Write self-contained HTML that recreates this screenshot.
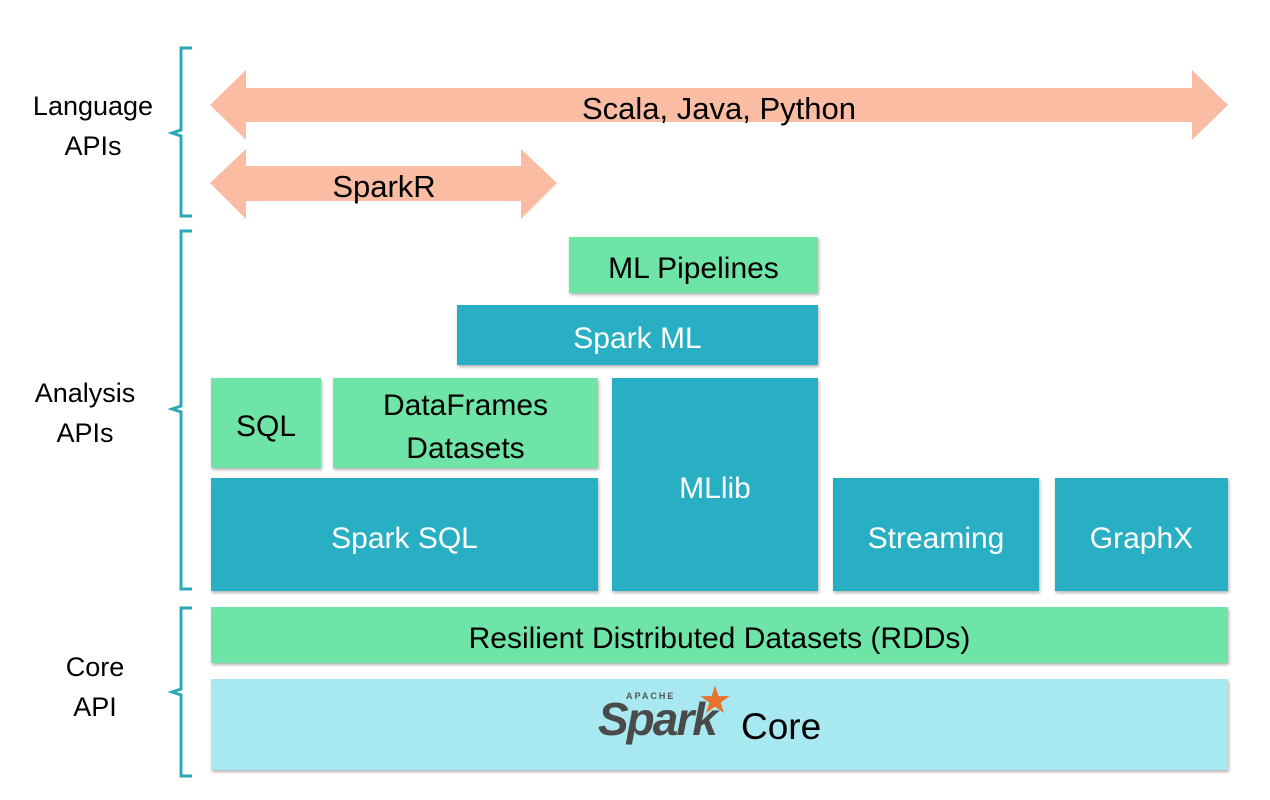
<!DOCTYPE html>
<html><head><meta charset="utf-8"><style>
body{margin:0;width:1270px;height:800px;background:#fff;position:relative;overflow:hidden;font-family:"Liberation Sans",sans-serif}
.b{position:absolute;display:flex;align-items:center;justify-content:center;text-align:center;font-size:30px;line-height:1.45;box-shadow:1px 2px 3px rgba(0,0,0,0.3);box-sizing:border-box;padding-top:8px}
.g{background:#6ee4a6;color:#000}
.t{background:#29afc3;color:#fff}
.l{position:absolute;font-size:27px;text-align:center;width:150px;line-height:1.48;color:#000}
</style></head><body>
<svg width="1270" height="800" style="position:absolute;left:0;top:0">
<g fill="#fbbca4">
<polygon points="210,105 246,70 246,88 1192,88 1192,70 1228,105 1192,140 1192,122 246,122 246,140"/>
<polygon points="210,183 246,149 246,166 521,166 521,149 557,183 521,219 521,201 246,201 246,219"/>
</g>
<g fill="none" stroke="#2aa9b9" stroke-width="3">
<path d="M192,48 H181 V130 L172,133 L181,136 V216 H192"/>
<path d="M192,231 H181 V406 L172,409 L181,412 V589 H192"/>
<path d="M192,608 H181 V689 L172,692 L181,695 V776 H192"/>
</g>
<text x="719" y="119" font-size="31" text-anchor="middle" font-family="Liberation Sans">Scala, Java, Python</text>
<text x="384" y="197" font-size="31" text-anchor="middle" font-family="Liberation Sans">SparkR</text>
</svg>
<div class="l" style="left:18px;top:87px">Language<br>APIs</div>
<div class="l" style="left:10px;top:374px">Analysis<br>APIs</div>
<div class="l" style="left:20px;top:648px">Core<br>API</div>
<div class="b g" style="left:569px;top:237px;width:249px;height:56px">ML Pipelines</div>
<div class="b t" style="left:457px;top:305px;width:361px;height:60px">Spark ML</div>
<div class="b g" style="left:211px;top:378px;width:110px;height:90px">SQL</div>
<div class="b g" style="left:333px;top:378px;width:265px;height:90px">DataFrames<br>Datasets</div>
<div class="b t" style="left:612px;top:378px;width:206px;height:213px">MLlib</div>
<div class="b t" style="left:211px;top:478px;width:387px;height:113px">Spark SQL</div>
<div class="b t" style="left:833px;top:478px;width:206px;height:113px">Streaming</div>
<div class="b t" style="left:1055px;top:478px;width:173px;height:113px">GraphX</div>
<div class="b g" style="left:211px;top:607px;width:1017px;height:56px">Resilient Distributed Datasets (RDDs)</div>
<div class="b" style="left:211px;top:679px;width:1017px;height:91px;background:#a8e8f0"></div>
<div style="position:absolute;left:598px;top:684px;width:140px;height:70px">
<div style="position:absolute;left:28px;top:7px;font-size:9px;letter-spacing:2px;color:#555;font-weight:bold">APACHE</div>
<div style="position:absolute;left:0;top:8px;font-size:46px;font-style:italic;font-weight:bold;color:#4a4a4a;letter-spacing:-2px">Spark</div>
<div style="position:absolute;left:100px;top:-6px;font-size:38px;color:#e8732a">★</div>
</div>
<div style="position:absolute;left:741px;top:706px;font-size:37px;color:#000">Core</div>
</body></html>
